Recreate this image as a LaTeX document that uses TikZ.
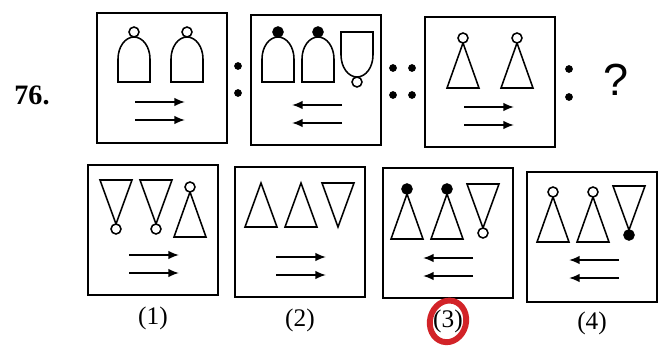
\documentclass[tikz,border=0pt]{standalone}
\usepackage{fontspec}
\setmainfont{Liberation Serif}
\newfontfamily\qfont{Liberation Sans}
\usetikzlibrary{positioning,arrows.meta}

\definecolor{ringred}{RGB}{210,35,40}

\tikzset{
  panel/.style={draw,line width=1.3pt,minimum width=3.25cm,minimum height=3.25cm,inner sep=0pt},
  fig/.style={line width=1.1pt},
  arr/.style={line width=1.2pt,-{Latex[length=7.5pt,width=6pt]}},
  dot/.style={circle,fill,inner sep=0pt,minimum size=5.5pt},
  optlabel/.style={font=\fontsize{18}{20}\selectfont},
  pics/uptri/.style={code={
    \draw[fig] (0,0) -- (16,44) -- (-16,44) -- cycle;
  }},
  pics/dntri/.style={code={
    \draw[fig] (-16,0) -- (16,0) -- (0,44) -- cycle;
  }},
  pics/upbob/.style={code={
    \draw[fig] (0,0) -- (16,45) -- (-16,45) -- cycle;
    \draw[fig,fill=#1] (0,-5) circle[radius=5];
  }},
  pics/dnbob/.style={code={
    \draw[fig] (-16,0) -- (16,0) -- (0,44) -- cycle;
    \draw[fig,fill=#1] (0,49) circle[radius=5];
  }},
  pics/bell/.style={code={
    \draw[fig] (-16,45) -- (-16,22) arc[start angle=180,end angle=360,x radius=16,y radius=22] -- (16,45) -- cycle;
    \draw[fig,fill=#1] (0,-5) circle[radius=5];
  }},
  pics/cup/.style={code={
    \draw[fig] (-16,0) -- (16,0) -- (16,23) arc[start angle=0,end angle=180,x radius=16,y radius=22] -- cycle;
    \draw[fig,fill=#1] (0,50) circle[radius=5];
  }},
  pics/rarrows/.style={code={
    \draw[arr] (-25,0) -- (25,0);
    \draw[arr] (-25,18) -- (25,18);
  }},
  pics/larrows/.style={code={
    \draw[arr] (25,0) -- (-25,0);
    \draw[arr] (25,18) -- (-25,18);
  }}
}

\begin{document}
\begin{tikzpicture}[x=0.025cm,y=-0.025cm]
  \useasboundingbox (0,0) rectangle (664,355);

  % question row
  \node[font=\fontsize{20}{22}\selectfont\bfseries] (qnum) at (32,95) {76.};
  \node[panel] (qa) at (162,78) {};
  \node[panel] (qb) at (316,80) {};
  \node[panel] (qc) at (490,82) {};
  \node[font=\fontsize{32}{34}\selectfont\qfont] (qmark) at (616,80) {?};

  \node[dot] (ab1) at (238,66) {};
  \node[dot] (ab2) at (238,93) {};
  \node[dot] (bc1) at (393,68) {};
  \node[dot] (bc2) at (412,68) {};
  \node[dot] (bc3) at (393,95) {};
  \node[dot] (bc4) at (412,95) {};
  \node[dot] (cq1) at (569,69) {};
  \node[dot] (cq2) at (569,97) {};

  \pic at (134,37) {bell=white};
  \pic at (187,37) {bell=white};
  \pic at (160,102) {rarrows};

  \pic at (278,37) {bell=black};
  \pic at (318,37) {bell=black};
  \pic at (357,32) {cup=white};
  \pic at (317,105) {larrows};

  \pic at (463,43) {upbob=white};
  \pic at (517,43) {upbob=white};
  \pic at (489,107) {rarrows};

  % answer row
  \node[panel] (p1) at (153,230) {};
  \node[panel] (p2) at (300,232) {};
  \node[panel] (p3) at (448,233) {};
  \node[panel] (p4) at (592,237) {};

  \node[optlabel,below=0.15cm of p1] (l1) {(1)};
  \node[optlabel,below=0.15cm of p2] (l2) {(2)};
  \node[optlabel,below=0.15cm of p3] (l3) {(3)};
  \node[optlabel,below=0.1cm of p4] (l4) {(4)};
  \draw[ringred,line width=4.2pt,rotate around={-15:(l3.center)}] (l3.center) ellipse[x radius=18,y radius=21];

  \pic at (116,180) {dnbob=white};
  \pic at (156,180) {dnbob=white};
  \pic at (190,192) {upbob=white};
  \pic at (154,255) {rarrows};

  \pic at (261,183) {uptri};
  \pic at (301,183) {uptri};
  \pic at (338,183) {dntri};
  \pic at (301,257) {rarrows};

  \pic at (407,194) {upbob=black};
  \pic at (447,194) {upbob=black};
  \pic at (483,184) {dnbob=white};
  \pic at (448,258) {larrows};

  \pic at (553,197) {upbob=white};
  \pic at (593,197) {upbob=white};
  \pic at (629,186) {dnbob=black};
  \pic at (594,260) {larrows};
\end{tikzpicture}
\end{document}
